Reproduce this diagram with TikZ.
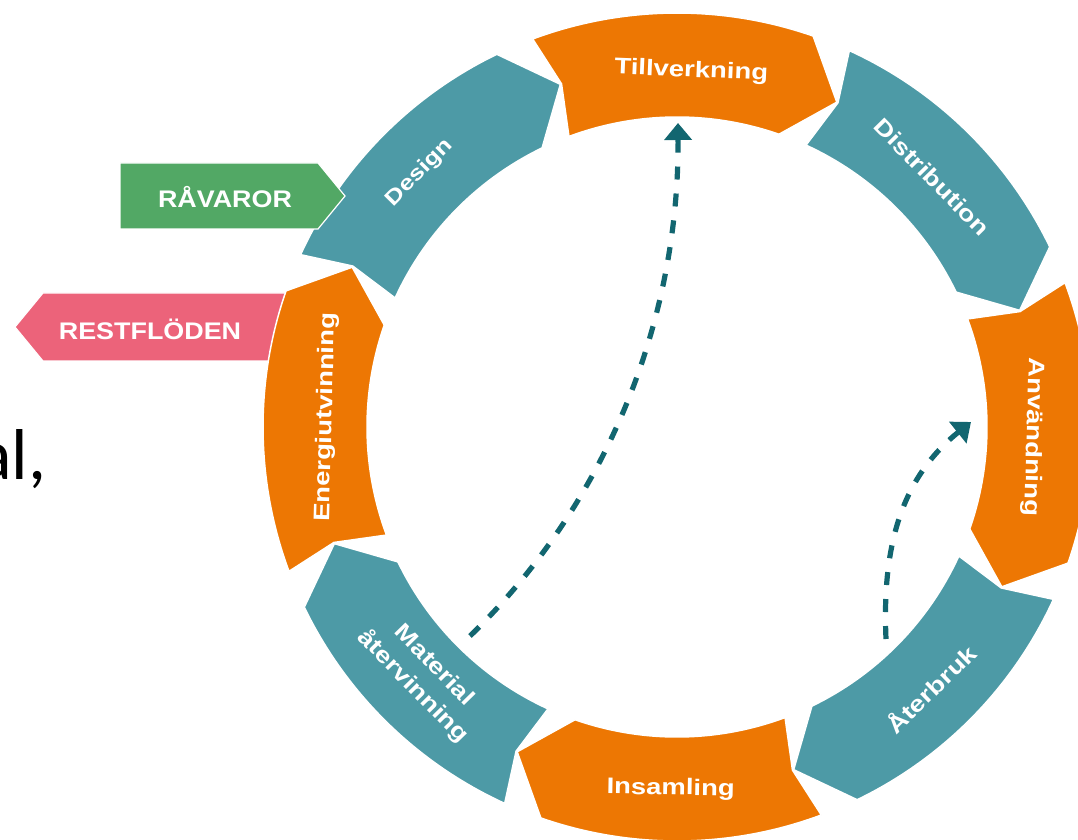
\documentclass[tikz,border=0pt]{standalone}
\usepackage{fontspec}
\usetikzlibrary{arrows.meta}
\newfontfamily\lblfont[FakeStretch=1.22]{Liberation Sans}
\newfontfamily\tagfont[FakeStretch=1.12]{Liberation Sans}
\newfontfamily\bodyfont{Carlito}
\definecolor{cTeal}{RGB}{77,154,166}
\definecolor{cOrange}{RGB}{237,119,3}
\definecolor{cGreen}{RGB}{82,168,101}
\definecolor{cPink}{RGB}{236,99,122}
\definecolor{cDark}{RGB}{18,102,112}
\newcommand{\ringseg}[2]{%
  \pgfmathsetmacro{\aA}{#1}%
  \pgfmathsetmacro{\aB}{#1-39.6}%
  \pgfmathsetmacro{\aT}{#1-46.6}%
  \pgfmathsetmacro{\aN}{#1-1.8}%
  \filldraw[fill=#2, segline] (\aA:414) arc[start angle=\aA, end angle=\aB, radius=414]
    -- (\aT:362) -- (\aB:310) arc[start angle=\aB, end angle=\aA, radius=310]
    -- (\aN:362) -- cycle;}
\tikzset{
  segline/.style={draw=white, line width=1.5pt, line join=miter},
  lbl/.style={text=white, font=\lblfont\bfseries\fontsize{22.5}{30}\selectfont, inner sep=0pt, align=center},
  taglbl/.style={text=white, font=\tagfont\bfseries\fontsize{24}{28}\selectfont, inner sep=0pt},
  dasharrow/.style={draw=cDark, line width=5.2pt, dash pattern=on 13pt off 14pt,
    -{Triangle[width=27pt,length=17pt]}}
}
\begin{document}
\begin{tikzpicture}[x=1pt,y=1pt]
\useasboundingbox (0,0) rectangle (1078,839);
% left slide text fragment
\node[anchor=base west, inner sep=0pt, font=\bodyfont\fontsize{72}{80}\selectfont] (txt) at (-23,360) {al,};
% RESTFLÖDEN tag (behind ring)
\filldraw[fill=cPink, draw=white, line width=1.2pt] (15,512) -- (43,546) -- (300,546) -- (300,478) -- (43,478) -- cycle;
\node[taglbl] (rest) at (150,510) {RESTFLÖDEN};
% ring
\begin{scope}[shift={(677,412)}]
  \ringseg{110.4}{cOrange}
  \ringseg{65.4}{cTeal}
  \ringseg{20.4}{cOrange}
  \ringseg{-24.6}{cTeal}
  \ringseg{-69.6}{cOrange}
  \ringseg{-114.6}{cTeal}
  \ringseg{-159.6}{cOrange}
  \ringseg{155.4}{cTeal}
  \node[lbl, rotate=-2.3] (tillv) at (87.7:356) {Tillverkning};
  \node[lbl, rotate=-45.6] (distr) at (44.4:357) {Distribution};
  \node[lbl, rotate=-91.6] (anvan) at (-1.6:356) {Användning};
  \node[lbl, rotate=44.1] (aterb) at (-45.9:364) {Återbruk};
  \node[lbl, rotate=-1] (insam) at (-91:362) {Insamling};
  \node[lbl, rotate=-45.7] (mater) at (-135.5:356) {Material\\återvinning};
  \node[lbl, rotate=88.4] (energ) at (178.4:351) {Energiutvinning};
  \node[lbl, rotate=45.4, font=\lblfont\bfseries\fontsize{21}{26}\selectfont] (design) at (135.4:362) {Design};
\end{scope}
% RÅVAROR tag (on top)
\filldraw[fill=cGreen, draw=white, line width=1.2pt] (120,676) -- (318,676) -- (345,643) -- (318,610) -- (120,610) -- cycle;
\node[taglbl] (rav) at (225,642) {RÅVAROR};
% dashed arrows
\coordinate (s1) at (470,203);
\coordinate (e1) at (678,716);
\coordinate (s2) at (886,200);
\coordinate (e2) at (971,417);
\draw[dasharrow] (s1) .. controls (611,340) and (679,524) .. (e1);
\draw[dasharrow] (s2) .. controls (882,290) and (900,360) .. (e2);
\end{tikzpicture}
\end{document}
